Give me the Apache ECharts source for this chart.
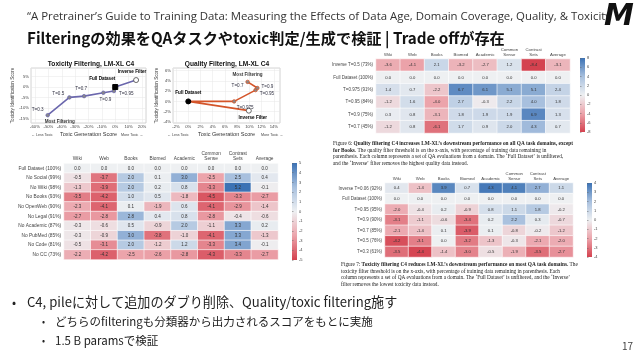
<!DOCTYPE html>
<html><head><meta charset="utf-8">
<script src="https://cdn.jsdelivr.net/npm/echarts@6/dist/echarts.min.js"></script>
<style>html,body{margin:0;padding:0;background:#fff}#c{width:640px;height:360px}</style>
</head><body><div id="c"></div>
<script>
// ---------- data ----------
const domains = ['Wiki','Web','Books','Biomed','Academic','Common\nSense','Contrast\nSets','Average'];

// Figure 6: quality filtering
const qualityRows = ['Inverse T=0.5 (73%)','Full Dataset (100%)','T=0.975 (91%)','T=0.95 (84%)','T=0.9 (75%)','T=0.7 (45%)'];
const qInverse = [-3.6,-4.1,2.1,-3.2,-2.7,1.2,-8.4,-3.1];
const qFull    = [0.0,0.0,0.0,0.0,0.0,0.0,0.0,0.0];
const qT975    = [1.4,0.7,-2.2,6.7,6.1,5.1,5.1,2.4];
const qT95     = [-1.2,1.6,-4.0,2.7,-0.3,2.2,4.0,1.8];
const qT9      = [0.3,0.8,-3.1,1.8,1.9,1.9,6.9,1.3];
const qT7      = [-1.2,0.8,-6.1,1.7,0.9,2.0,4.3,0.7];

// Figure 7: toxicity filtering
const toxicRows = ['Inverse T=0.06 (92%)','Full Dataset (100%)','T=0.95 (95%)','T=0.9 (90%)','T=0.7 (85%)','T=0.5 (76%)','T=0.3 (61%)'];
const tInverse = [0.4,-1.4,3.9,0.7,4.3,4.1,2.7,1.1];
const tFull    = [0.0,0.0,0.0,0.0,0.0,0.0,0.0,0.0];
const tT95     = [-2.0,-0.4,0.2,-0.9,0.8,1.1,1.8,-0.2];
const tT9      = [-3.1,-1.1,-0.6,-3.4,0.2,2.2,0.3,-0.7];
const tT7      = [-2.1,-1.4,0.1,-3.9,0.1,-0.8,-0.2,-1.2];
const tT5      = [-4.2,-3.1,0.0,-3.2,-1.3,-0.3,-2.1,-2.0];
const tT3      = [-3.5,-4.4,-1.4,-3.0,-0.5,-1.9,-3.5,-2.7];

// Pile domain ablations
const pileRows = ['Full Dataset (100%)','No Social (99%)','No Wiki (98%)','No Books (93%)','No OpenWeb (90%)','No Legal (91%)','No Academic (87%)','No PubMed (85%)','No Code (81%)','No CC (73%)'];
const pFull     = [0.0,0.0,0.0,0.0,0.0,0.0,0.0,0.0];
const pSocial   = [-0.5,-3.7,2.0,0.1,3.0,-2.5,2.5,0.4];
const pWiki     = [-1.3,-3.9,2.0,0.2,0.8,-3.3,5.2,-0.1];
const pBooks    = [-3.5,-4.2,1.0,0.5,-1.8,-4.5,-3.3,-2.7];
const pOpenWeb  = [-2.3,-4.1,0.1,-1.9,0.6,-4.1,-2.9,-1.4];
const pLegal    = [-2.7,-2.8,2.8,0.4,0.8,-2.8,-0.4,-0.6];
const pAcademic = [-0.3,-0.6,0.5,-0.9,2.0,-1.1,3.3,0.2];
const pPubMed   = [-0.3,-0.9,3.0,-3.8,-1.0,-4.1,3.3,-1.3];
const pCode     = [-0.5,-3.1,2.0,-1.2,1.2,-3.3,3.4,-0.1];
const pCC       = [-2.2,-4.2,-2.5,-2.6,-2.8,-4.3,-3.3,-2.7];

// Line chart: Toxicity Filtering, LM-XL C4
const toxLabels = ['T=0.3','T=0.5','T=0.7','T=0.9','T=0.95','Full Dataset','Inverse Filter'];
const toxGen    = [-50.5,-34.3,-23.3,-8.9,-1.0,0,15.6];
const toxIdent  = [-13.3,-4.9,-4.3,-2.7,-1.9,0,3.3];

// Line chart: Quality Filtering, LM-XL C4
const qualLabels = ['Inverse Filter','Full Dataset','T=0.975','T=0.95','T=0.9','T=0.7'];
const qualGen    = [9.9,0,7.5,11.0,11.3,9.7];
const qualIdent  = [-1.8,0,0,2.2,2.6,3.8];

// ---------- styles ----------
const heatColors = ['#d4424f','#eca4ab','#eef0f2','#a8c0de','#3c72b4'];
const sans = 'Liberation Sans';
const serif = 'Liberation Serif';
const jp = 'Noto Sans CJK JP';

function toCells(rows){const out=[];rows.forEach((r,yi)=>r.forEach((v,xi)=>out.push([xi,yi,v])));return out;}
const qualityCells = toCells([qInverse,qFull,qT975,qT95,qT9,qT7]);
const toxicCells = toCells([tInverse,tFull,tT95,tT9,tT7,tT5,tT3]);
const pileCells = toCells([pFull,pSocial,pWiki,pBooks,pOpenWeb,pLegal,pAcademic,pPubMed,pCode,pCC]);

function heatX(gi,fs){return {gridIndex:gi,type:'category',data:domains,position:'top',axisLine:{show:false},axisTick:{show:false},axisLabel:{fontSize:fs,color:'#444',fontFamily:sans,margin:2,interval:0,lineHeight:fs+0.5}};}
function heatY(gi,rows,fs){return {gridIndex:gi,type:'category',data:rows,inverse:true,axisLine:{show:false},axisTick:{show:false},axisLabel:{fontSize:fs,color:'#444',fontFamily:sans,margin:3,interval:0}};}
function heatSeries(xi,cells,fs){return {type:'heatmap',xAxisIndex:xi,yAxisIndex:xi,data:cells,itemStyle:{borderColor:'#fff',borderWidth:0.6},label:{show:true,fontSize:fs,color:'#333',fontFamily:sans,formatter:p=>p.value[2].toFixed(1)},emphasis:{disabled:true}};}
function barGrad(){return new echarts.graphic.LinearGradient(0,0,0,1,heatColors.slice().reverse().map((c,i)=>({offset:i/4,color:c})));}
function cbX(gi){return {gridIndex:gi,type:'value',show:false,min:0,max:1};}
function cbY(gi,mn,mx,iv){return {gridIndex:gi,type:'value',min:mn,max:mx,interval:iv,position:'right',axisLine:{show:false},axisTick:{show:true,length:1.5,lineStyle:{color:'#666',width:0.5}},splitLine:{show:false},axisLabel:{fontSize:4,color:'#444',margin:2,fontFamily:sans}};}

const toxLabelStyle = {
 'T=0.3':{position:'left',offset:[0,-5]},
 'T=0.5':{position:'left',offset:[-1,-4]},
 'T=0.7':{position:'top',offset:[-3,-1]},
 'T=0.9':{position:'bottom',offset:[2,0]},
 'T=0.95':{position:'right',offset:[1,3]},
 'Full Dataset':{position:'top',offset:[-13,-1]},
 'Inverse Filter':{position:'top',offset:[-4,-1]}
};
const qualLabelStyle = {
 'T=0.975':{position:'bottom',offset:[11,0]},
 'T=0.95':{position:'right',offset:[0,4]},
 'T=0.9':{position:'right',offset:[0,-1]},
 'T=0.7':{position:'left',offset:[0,4]},
 'Full Dataset':{position:'top',offset:[0,-1]},
 'Inverse Filter':{position:'bottom',offset:[4,0]}
};
const boldNames = ['Full Dataset','Inverse Filter'];
function markerFor(name,color){
 if(name==='Full Dataset') return {symbol:color==='#6b67ad'?'rect':'circle',symbolSize:5,itemStyle:{color:'#000',borderColor:'#000'}};
 if(name==='Inverse Filter') return {symbol:'circle',symbolSize:5,itemStyle:{color:'#fff',borderColor:'#444',borderWidth:0.8}};
 return {symbol:'circle',symbolSize:3.5,itemStyle:{color:'#888',borderColor:color,borderWidth:0.8}};
}
function lineData(xs,ys,names,styleMap,color){
 return xs.map((x,i)=>{
  const n=names[i];const st=styleMap[n]||{};const m=markerFor(n,color);const b=boldNames.includes(n);
  return Object.assign({value:[x,ys[i]],name:n,label:{show:true,formatter:n,position:st.position,offset:st.offset,fontSize:4.6,fontWeight:b?'bold':'normal',color:b?'#000':'#334',fontFamily:sans,distance:2}},m);
 });
}
function mostData(xs,ys,names,key,pos,off){
 const i=names.indexOf(key);
 return [{value:[xs[i],ys[i]],label:{show:true,formatter:'Most Filtering',position:pos,offset:off,fontSize:4.6,fontWeight:'bold',color:'#000',fontFamily:sans}}];
}
const pct = v=>Math.round(v)+'%';
function lineX(gi,mn,mx,sn,name){return {gridIndex:gi,type:'value',min:mn,max:mx,splitNumber:sn,name:name,nameLocation:'middle',nameGap:8,nameTextStyle:{fontSize:5.5,color:'#333',fontFamily:sans},axisLine:{show:false},axisTick:{show:false},splitLine:{lineStyle:{color:'#e6e6e6',width:0.5}},axisLabel:{fontSize:4.2,color:'#444',margin:2,fontFamily:sans,formatter:pct,showMinLabel:false,showMaxLabel:false}};}
function lineY(gi,mn,mx,sn){return {gridIndex:gi,type:'value',min:mn,max:mx,splitNumber:sn,name:'Toxicity Identification Score',nameLocation:'middle',nameGap:12,nameTextStyle:{fontSize:4.6,color:'#333',fontFamily:sans},axisLine:{show:false},axisTick:{show:false},splitLine:{lineStyle:{color:'#e6e6e6',width:0.5}},axisLabel:{fontSize:4.2,color:'#444',margin:2,fontFamily:sans,formatter:pct,showMinLabel:false,showMaxLabel:false}};}

function txt(x,y,text,fs,opt){return {type:'text',x:x,y:y,silent:true,style:Object.assign({text:text,fontSize:fs,fontFamily:jp,fill:'#222',textVerticalAlign:'middle'},opt||{})};}

const capRich = {b:{fontWeight:'bold',fontSize:5.3,fontFamily:serif,fill:'#222'}};
const capFs = 5.3;

const option = {
 backgroundColor:'#fff',
 animation:false,
 grid:[
  {left:31,top:68,width:115,height:55,show:true,borderColor:'#bbb',borderWidth:0.6,backgroundColor:'#fff'},
  {left:173,top:68,width:107,height:55,show:true,borderColor:'#bbb',borderWidth:0.6,backgroundColor:'#fff'},
  {left:376,top:59,width:194,height:74},
  {left:580,top:58,width:5,height:74,show:true,borderWidth:0,backgroundColor:barGrad()},
  {left:385,top:183,width:188,height:74},
  {left:587,top:183,width:5,height:74,show:true,borderWidth:0,backgroundColor:barGrad()},
  {left:64,top:163.5,width:214,height:96},
  {left:292,top:163,width:5,height:97,show:true,borderWidth:0,backgroundColor:barGrad()}
 ],
 xAxis:[
  lineX(0,-63,23,8,'Toxic Generation Score'),
  lineX(1,-2.5,15,8,'Toxic Generation Score'),
  heatX(2,4.3), cbX(3), heatX(4,4.3), cbX(5), heatX(6,4.8), cbX(7)
 ],
 yAxis:[
  lineY(0,-17,9,5),
  lineY(1,-4.2,6.5,5),
  heatY(2,qualityRows,4.5), cbY(3,-8,8,2), heatY(4,toxicRows,4.5), cbY(5,-4,4,1), heatY(6,pileRows,4.8), cbY(7,-5,5,1)
 ],
 visualMap:[
  {show:false,seriesIndex:4,min:-8,max:8,inRange:{color:heatColors}},
  {show:false,seriesIndex:5,min:-4.5,max:4.5,inRange:{color:heatColors}},
  {show:false,seriesIndex:6,min:-5,max:5,inRange:{color:heatColors}}
 ],
 series:[
  {type:'line',xAxisIndex:0,yAxisIndex:0,data:lineData(toxGen,toxIdent,toxLabels,toxLabelStyle,'#6b67ad'),lineStyle:{color:'#6b67ad',width:1.6},z:3},
  {type:'scatter',xAxisIndex:0,yAxisIndex:0,symbolSize:0,data:mostData(toxGen,toxIdent,toxLabels,'T=0.3','bottom',[12,-1]),z:4},
  {type:'line',xAxisIndex:1,yAxisIndex:1,data:lineData(qualGen,qualIdent,qualLabels,qualLabelStyle,'#d4552a'),lineStyle:{color:'#d4552a',width:1.6},z:3},
  {type:'scatter',xAxisIndex:1,yAxisIndex:1,symbolSize:0,data:mostData(qualGen,qualIdent,qualLabels,'T=0.7','top',[0,0]),z:4},
  heatSeries(2,qualityCells,4.2),
  heatSeries(4,toxicCells,4.2),
  heatSeries(6,pileCells,4.5)
 ],
 graphic:[
  txt(27,17,'\u201cA Pretrainer\u2019s Guide to Training Data: Measuring the Effects of Data Age, Domain Coverage, Quality, & Toxicity',11.4,{fontFamily:'Open Sans',fill:'#333'}),
  txt(27,38,'Filteringの効果をQAタスクやtoxic判定/生成で検証 | Trade offが存在',15.2,{fontWeight:'bold',fill:'#111'}),
  txt(604,17,'M',30,{fontFamily:'DejaVu Sans',fontWeight:'bold',fontStyle:'italic',fill:'#111'}),
  txt(91,64,'Toxicity Filtering, LM-XL C4',6.6,{fontFamily:sans,fontWeight:'bold',textAlign:'center',fill:'#111'}),
  txt(227,64,'Quality Filtering, LM-XL C4',6.6,{fontFamily:sans,fontWeight:'bold',textAlign:'center',fill:'#111'}),
  txt(42,135,'\u2190 Less Toxic',3.6,{fontFamily:sans,textAlign:'center',fill:'#444'}),
  txt(132,135,'More Toxic \u2192',3.6,{fontFamily:sans,textAlign:'center',fill:'#444'}),
  txt(178,135,'\u2190 Less Toxic',3.6,{fontFamily:sans,textAlign:'center',fill:'#444'}),
  txt(272,135,'More Toxic \u2192',3.6,{fontFamily:sans,textAlign:'center',fill:'#444'}),
  txt(333,144,'Figure 6: {b|Quality filtering C4 increases LM-XL\u2019s downstream performance on all QA task domains, except}',capFs,{fontFamily:serif,rich:capRich}),
  txt(333,150.5,'{b|for Books}. The quality filter threshold is on the x-axis, with percentage of training data remaining in',capFs,{fontFamily:serif,rich:capRich}),
  txt(333,157,'parenthesis. Each column represents a set of QA evaluations from a domain. The \u2018Full Dataset\u2019 is unfiltered,',capFs,{fontFamily:serif}),
  txt(333,163.5,'and the \u2018Inverse\u2019 filter removes the highest quality data instead.',capFs,{fontFamily:serif}),
  txt(341,265,'Figure 7: {b|Toxicity filtering C4 reduces LM-XL\u2019s downstream performance on most QA task domains.} The',capFs,{fontFamily:serif,rich:capRich}),
  txt(341,271.5,'toxicity filter threshold is on the x-axis, with percentage of training data remaining in parenthesis. Each',capFs,{fontFamily:serif}),
  txt(341,278,'column represents a set of QA evaluations from a domain. The \u2018Full Dataset\u2019 is unfiltered, and the \u2018Inverse\u2019',capFs,{fontFamily:serif}),
  txt(341,284.5,'filter removes the lowest toxicity data instead.',capFs,{fontFamily:serif}),
  txt(12,302,'•',12),
  txt(27,302,'C4, pileに対して追加のダブり削除、Quality/toxic filtering施す',13.1),
  txt(42,322,'•',9),
  txt(55,322,'どちらのfilteringも分類器から出力されるスコアをもとに実施',11.5),
  txt(42,341,'•',9),
  txt(55,341,'1.5 B paramsで検証',11.5),
  txt(622,346,'17',10,{fill:'#444'})
 ]
};
echarts.init(document.getElementById('c')).setOption(option);
</script></body></html>
